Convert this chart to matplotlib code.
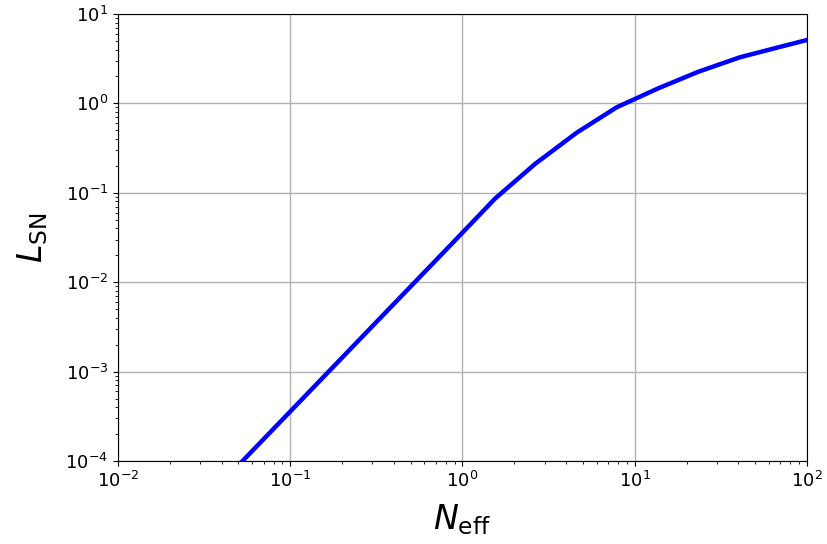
import matplotlib
matplotlib.use("Agg")
import matplotlib.pyplot as plt

# Data
n_eff = [0.0362, 0.0619, 0.106, 0.181, 0.309, 0.528, 0.903, 1.544, 2.636,
         4.60, 7.86, 13.7, 23.4, 40.8, 69.8, 100.0]
l_sn = [4.69e-5, 1.372e-4, 4.02e-4, 1.173e-3, 3.42e-3, 9.98e-3, 2.92e-2, 0.086,
        0.210, 0.470, 0.905, 1.475, 2.26, 3.28, 4.29, 5.12]

fig = plt.figure(figsize=(8.28, 5.44), dpi=100)
ax = fig.add_axes([118/828, 1-461/544, (807-118)/828, (461-14)/544])
ax.plot(n_eff, l_sn, color="blue", lw=3.2)
ax.set_xscale("log")
ax.set_yscale("log")
ax.set_xlim(1e-2, 1e2)
ax.set_ylim(1e-4, 1e1)
ax.grid(True, which="major", color="#b0b0b0", lw=1)
ax.tick_params(labelsize=13)
ax.set_xlabel(r"$N_{\rm eff}$", fontsize=24, labelpad=8)
ax.set_ylabel(r"$L_{\rm SN}$", fontsize=24, labelpad=11)
fig.savefig("out.png", dpi=100)
